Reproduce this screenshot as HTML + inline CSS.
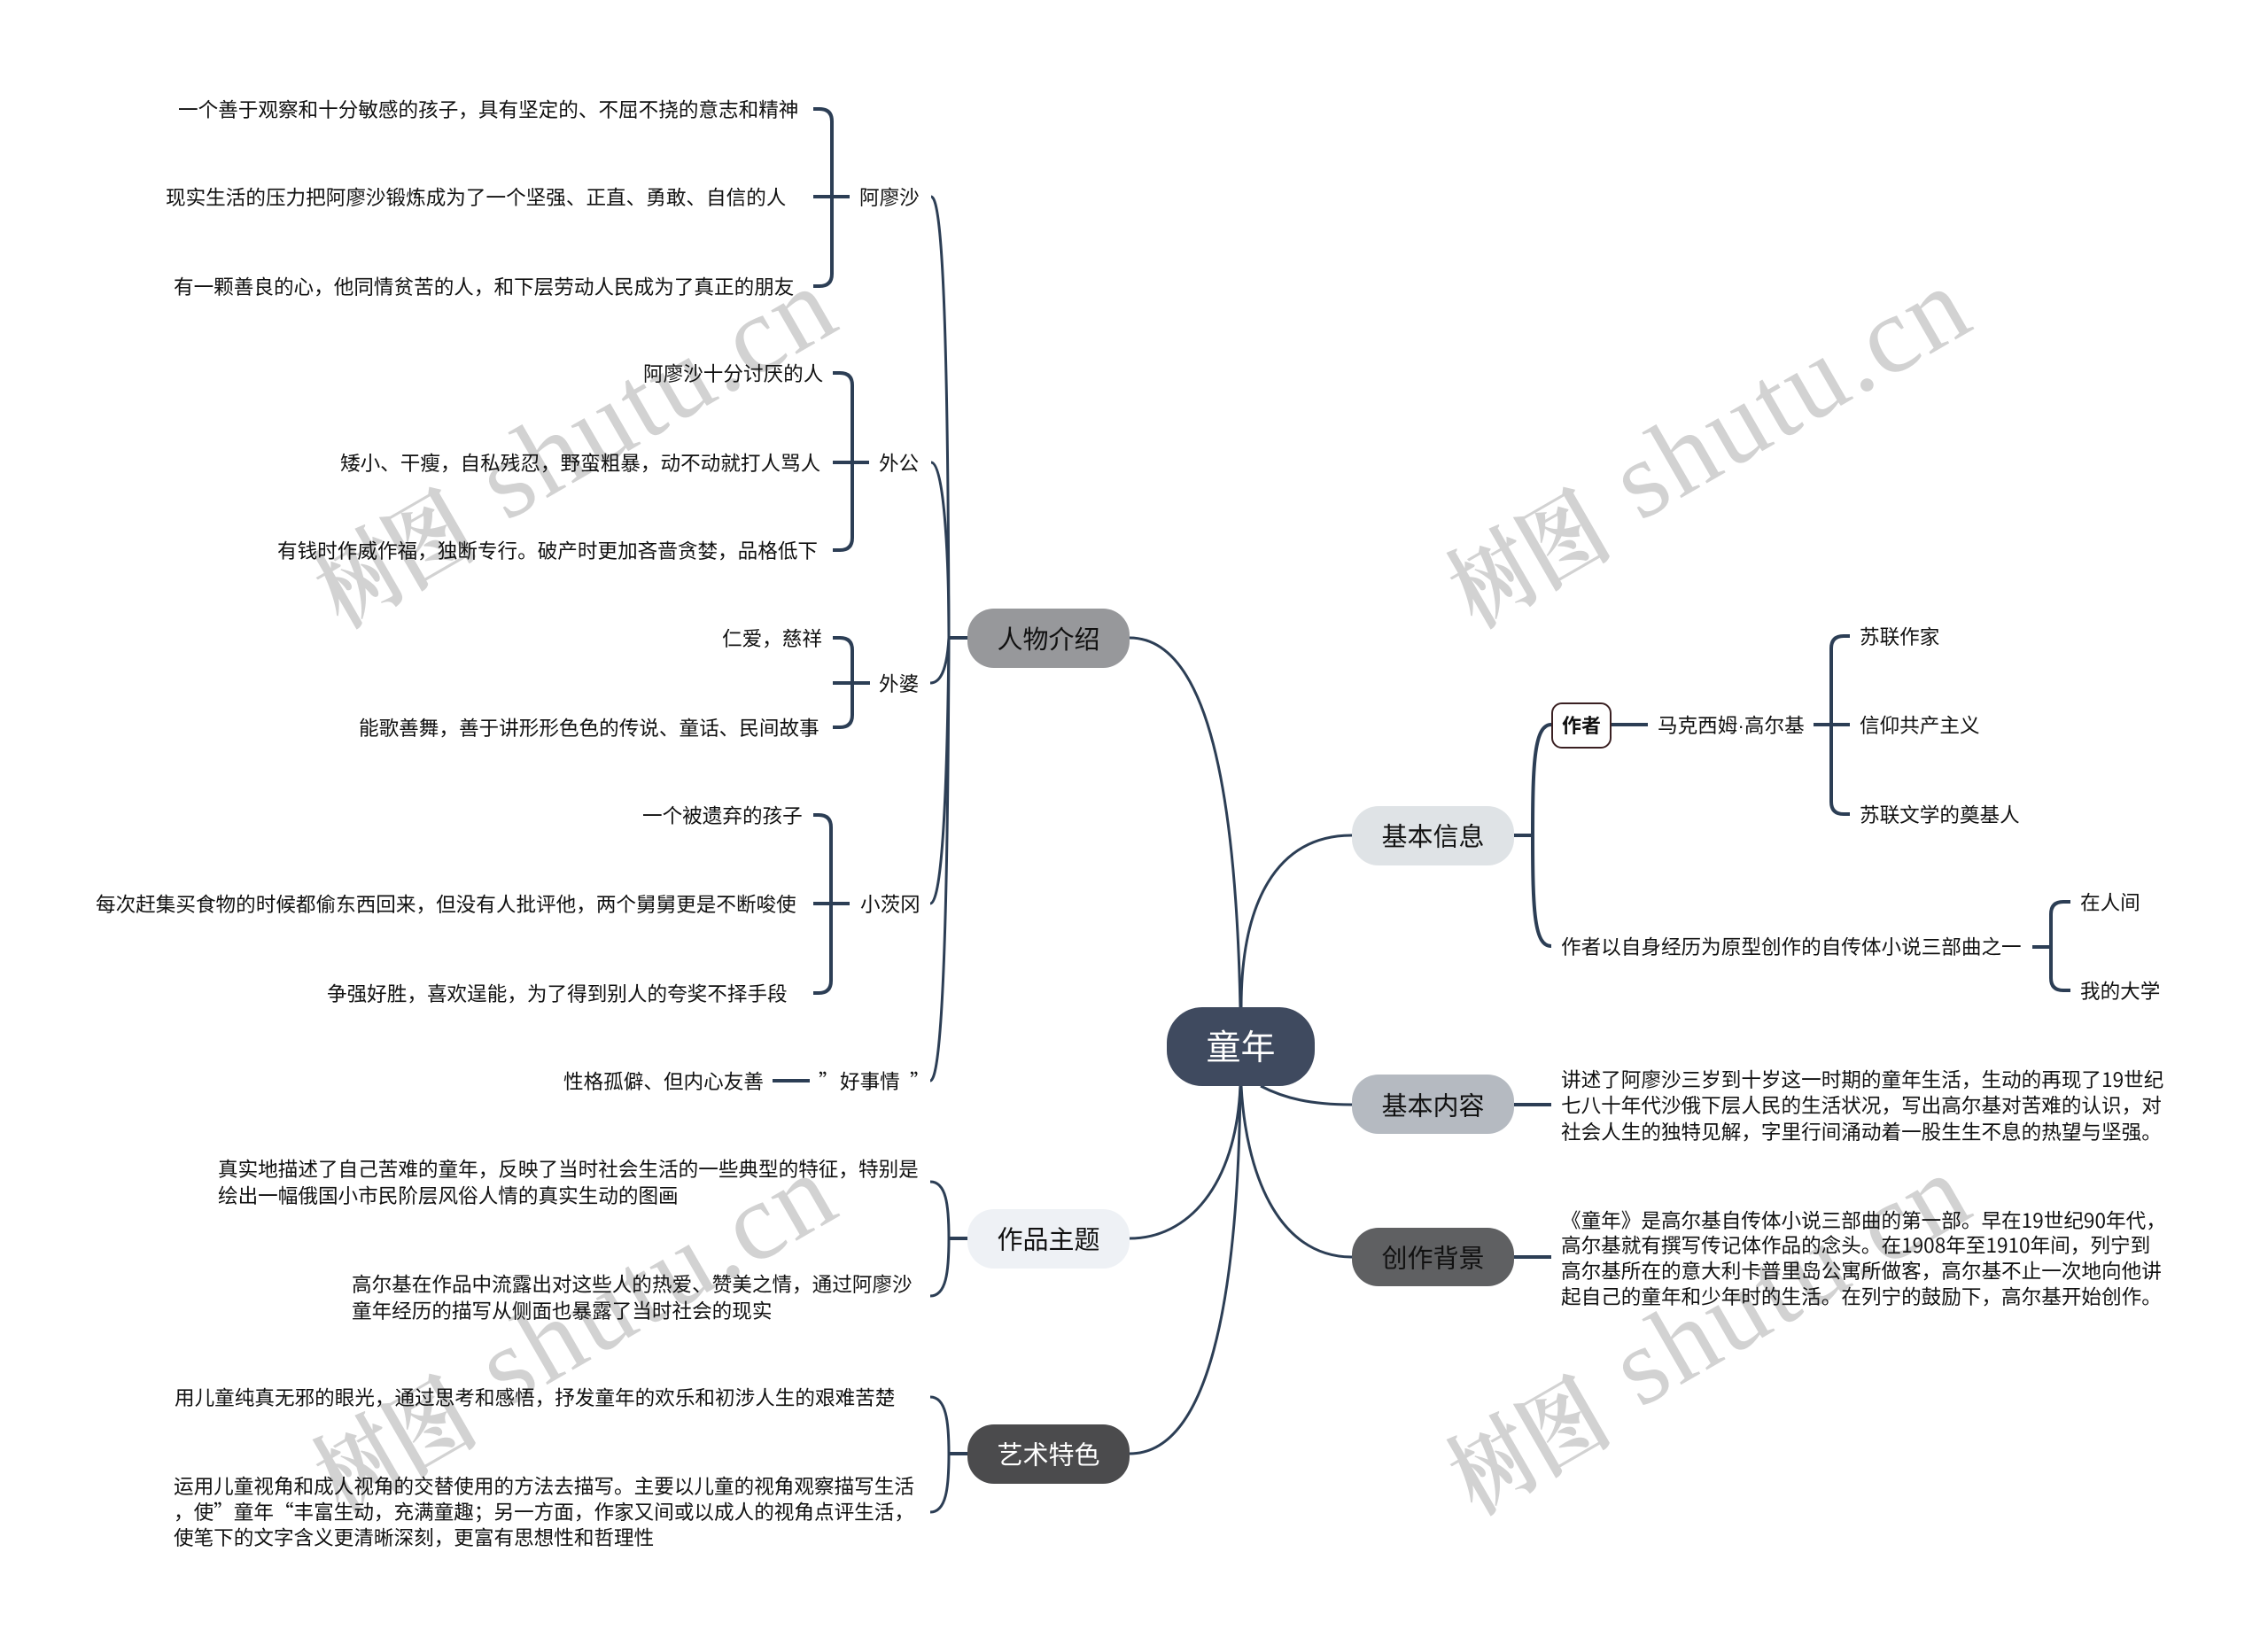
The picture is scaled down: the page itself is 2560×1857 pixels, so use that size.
<!DOCTYPE html>
<html lang="zh-CN">
<head>
<meta charset="utf-8">
<title>童年</title>
<style>
html,body{margin:0;padding:0;background:#fff;width:2560px;height:1857px;overflow:hidden}
svg{display:block}
text{font-family:"Noto Sans CJK SC","Liberation Sans",sans-serif;fill:#111;font-size:22.6px}
.n{font-size:29px;text-anchor:middle}
.wl{font-family:"Liberation Serif",serif;font-size:124px;letter-spacing:3px;fill:#d2d2d2}
.wc{font-family:"Noto Serif CJK SC","Liberation Serif",serif;font-size:106px;font-weight:700;fill:#d2d2d2}
.c{fill:none;stroke:#2c3e55;stroke-width:3}
.b{fill:none;stroke:#2c3e55;stroke-width:4}
</style>
</head>
<body>
<svg xmlns="http://www.w3.org/2000/svg" width="2560" height="1857" viewBox="0 0 2560 1857">
<rect width="2560" height="1857" fill="#fff"/>
<g>
<text class="wc" transform="translate(386,709) rotate(-30) scale(.85,1)">树图</text>
<text class="wl" transform="translate(571,589) rotate(-30)">shutu.cn</text>
<text class="wc" transform="translate(1666,709) rotate(-30) scale(.85,1)">树图</text>
<text class="wl" transform="translate(1851,589) rotate(-30)">shutu.cn</text>
<text class="wc" transform="translate(386,1710) rotate(-30) scale(.85,1)">树图</text>
<text class="wl" transform="translate(571,1590) rotate(-30)">shutu.cn</text>
<text class="wc" transform="translate(1666,1710) rotate(-30) scale(.85,1)">树图</text>
<text class="wl" transform="translate(1851,1590) rotate(-30)">shutu.cn</text>
</g>

<!-- main curves -->
<path class="c" d="M1401 1137C1401 1020 1440 943 1526 943"/>
<path class="c" d="M1275 720C1365 720 1395 900 1400 1137"/>
<path class="c" d="M1423 1226C1450 1240 1480 1247 1526 1247"/>
<path class="c" d="M1401 1226C1406 1320 1440 1419 1526 1419"/>
<path class="c" d="M1400 1226C1395 1340 1340 1398 1275 1398"/>
<path class="c" d="M1400 1226C1398 1400 1380 1641 1275 1641"/>

<!-- left branch curves -->
<path class="b" d="M1092 720H1071"/>
<path class="c" d="M1051 222C1065 222 1070 400 1071 720"/>
<path class="c" d="M1051 522C1065 522 1071 620 1071 720"/>
<path class="c" d="M1050 771C1062 771 1069 755 1071 720"/>
<path class="c" d="M1050 1020C1062 1020 1069 920 1071 720"/>
<path class="c" d="M1050 1220C1065 1220 1070 1000 1071 720"/>

<!-- left brackets -->
<path class="b" d="M918 123H925Q939 123 939 137V309Q939 323 925 323H918M918 222H959"/>
<path class="b" d="M940 421H948Q962 421 962 435V607Q962 621 948 621H940M940 522H981"/>
<path class="b" d="M940 720H948Q962 720 962 734V807Q962 821 948 821H940M940 771H982"/>
<path class="b" d="M918 920H924Q938 920 938 934V1107Q938 1121 924 1121H918M918 1020H959"/>
<path class="b" d="M872 1220H914"/>

<!-- themes / art -->
<path class="c" d="M1071 1398C1071 1360 1068 1334 1050 1334M1071 1398C1071 1436 1068 1463 1050 1463"/>
<path class="b" d="M1092 1398H1071"/>
<path class="c" d="M1071 1641C1071 1605 1068 1577 1050 1577M1071 1641C1071 1680 1068 1707 1050 1707"/>
<path class="b" d="M1092 1641H1071"/>

<!-- right branches -->
<path class="b" d="M1709 943H1730"/>
<path class="b" d="M1730 943C1730 860 1732 818 1751 818M1730 943C1730 1030 1732 1068 1751 1068"/>
<path class="b" d="M1819 818H1860"/>
<path class="b" d="M2047 818H2088M2088 718H2081Q2067 718 2067 732V905Q2067 919 2081 919H2088"/>
<path class="b" d="M2294 1069H2315M2337 1018H2329Q2315 1018 2315 1032V1104Q2315 1118 2329 1118H2337"/>
<path class="b" d="M1709 1247H1751M1709 1419H1751"/>

<!-- nodes -->
<rect x="1317" y="1137" width="167" height="89" rx="40" fill="#3f4a5f"/>
<text x="1400.5" y="1196" text-anchor="middle" style="font-size:39px;fill:#fff">童年</text>

<rect x="1526" y="910" width="183" height="67" rx="30" fill="#dfe3e6"/>
<text class="n" x="1617.5" y="954.5">基本信息</text>
<rect x="1526" y="1213" width="183" height="67" rx="30" fill="#b5bac1"/>
<text class="n" x="1617.5" y="1258.5">基本内容</text>
<rect x="1526" y="1386" width="183" height="66" rx="30" fill="#5f6062"/>
<text class="n" x="1617.5" y="1430.5">创作背景</text>

<rect x="1092" y="687" width="183" height="67" rx="30" fill="#97989b"/>
<text class="n" x="1183.5" y="732">人物介绍</text>
<rect x="1092" y="1365" width="183" height="67" rx="30" fill="#eef1f5"/>
<text class="n" x="1183.5" y="1409.5">作品主题</text>
<rect x="1092" y="1608" width="183" height="67" rx="30" fill="#4b4b4d"/>
<text class="n" x="1183.5" y="1652.5" style="fill:#fff">艺术特色</text>

<rect x="1752" y="794" width="66" height="50" rx="11" fill="#fff" stroke="#3a2022" stroke-width="2"/>
<text x="1785" y="827" text-anchor="middle" style="font-size:22px;font-weight:700">作者</text>

<!-- right text -->
<text x="1871" y="827">马克西姆<tspan style="font-family:'Liberation Sans',sans-serif">·</tspan>高尔基</text>
<text x="2099" y="727">苏联作家</text>
<text x="2099" y="827">信仰共产主义</text>
<text x="2099" y="928">苏联文学的奠基人</text>
<text x="1762" y="1077">作者以自身经历为原型创作的自传体小说三部曲之一</text>
<text x="2348" y="1027">在人间</text>
<text x="2348" y="1127">我的大学</text>
<text x="1762" y="1227">讲述了阿廖沙三岁到十岁这一时期的童年生活，生动的再现了19世纪</text>
<text x="1762" y="1256">七八十年代沙俄下层人民的生活状况，写出高尔基对苦难的认识，对</text>
<text x="1762" y="1286">社会人生的独特见解，字里行间涌动着一股生生不息的热望与坚强。</text>
<text x="1762" y="1386">《童年》是高尔基自传体小说三部曲的第一部。早在19世纪90年代，</text>
<text x="1762" y="1414">高尔基就有撰写传记体作品的念头。在1908年至1910年间，列宁到</text>
<text x="1762" y="1443">高尔基所在的意大利卡普里岛公寓所做客，高尔基不止一次地向他讲</text>
<text x="1762" y="1472">起自己的童年和少年时的生活。在列宁的鼓励下，高尔基开始创作。</text>

<!-- left text -->
<text x="201" y="132">一个善于观察和十分敏感的孩子，具有坚定的、不屈不挠的意志和精神</text>
<text x="187" y="231">现实生活的压力把阿廖沙锻炼成为了一个坚强、正直、勇敢、自信的人</text>
<text x="196" y="332">有一颗善良的心，他同情贫苦的人，和下层劳动人民成为了真正的朋友</text>
<text x="970" y="231">阿廖沙</text>
<text x="726" y="430">阿廖沙十分讨厌的人</text>
<text x="384" y="531">矮小、干瘦，自私残忍，野蛮粗暴，动不动就打人骂人</text>
<text x="313" y="630">有钱时作威作福，独断专行。破产时更加吝啬贪婪，品格低下</text>
<text x="992" y="531">外公</text>
<text x="815" y="729">仁爱，慈祥</text>
<text x="405" y="830">能歌善舞，善于讲形形色色的传说、童话、民间故事</text>
<text x="992" y="780">外婆</text>
<text x="725" y="929">一个被遗弃的孩子</text>
<text x="108" y="1029">每次赶集买食物的时候都偷东西回来，但没有人批评他，两个舅舅更是不断唆使</text>
<text x="369" y="1130">争强好胜，喜欢逞能，为了得到别人的夸奖不择手段</text>
<text x="971" y="1029">小茨冈</text>
<text x="636" y="1229">性格孤僻、但内心友善</text>
<text x="924" y="1229">”</text>
<text x="948" y="1229">好事情</text>
<text x="1027" y="1229">”</text>
<text x="246" y="1328">真实地描述了自己苦难的童年，反映了当时社会生活的一些典型的特征，特别是</text>
<text x="246" y="1358">绘出一幅俄国小市民阶层风俗人情的真实生动的图画</text>
<text x="397" y="1458">高尔基在作品中流露出对这些人的热爱、赞美之情，通过阿廖沙</text>
<text x="397" y="1488">童年经历的描写从侧面也暴露了当时社会的现实</text>
<text x="197" y="1586">用儿童纯真无邪的眼光，通过思考和感悟，抒发童年的欢乐和初涉人生的艰难苦楚</text>
<text x="196" y="1686">运用儿童视角和成人视角的交替使用的方法去描写。主要以儿童的视角观察描写生活</text>
<text x="196" y="1715">，使”童年“丰富生动，充满童趣；另一方面，作家又间或以成人的视角点评生活，</text>
<text x="196" y="1744">使笔下的文字含义更清晰深刻，更富有思想性和哲理性</text>
</svg>
</body>
</html>
